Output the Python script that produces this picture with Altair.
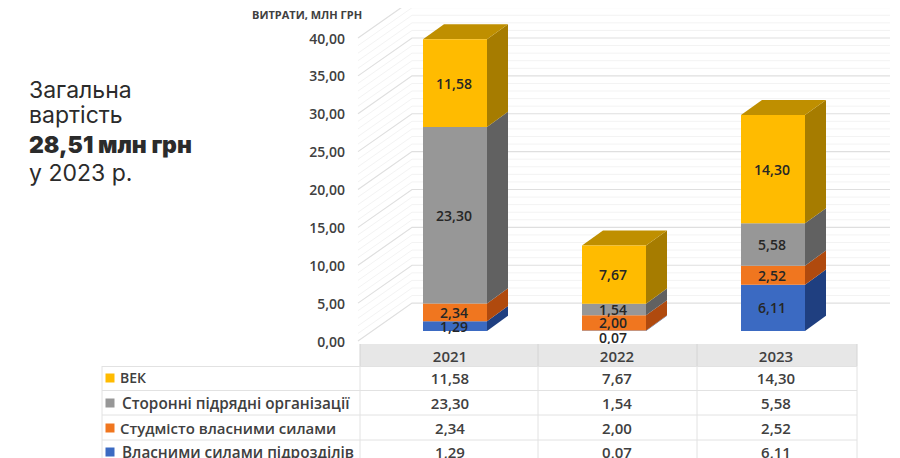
import altair as alt
import pandas as pd

YEARS = ["2021", "2022", "2023"]
SERIES = ["Власними силами підрозділів", "Студмісто власними силами", "Сторонні підрядні організації", "ВЕК"]
VALS = {
    "Власними силами підрозділів": [1.29, 0.07, 6.11],
    "Студмісто власними силами": [2.34, 2.00, 2.52],
    "Сторонні підрядні організації": [23.30, 1.54, 5.58],
    "ВЕК": [11.58, 7.67, 14.30],
}
FRONT = ["#3B6AC2", "#F0761F", "#979797", "#FFBB00"]
SIDE = ["#1F3F80", "#B04A0E", "#616161", "#A67C00"]
TOP = "#BF8F00"
TICKS = [0, 5, 10, 15, 20, 25, 30, 35, 40]
MINOR = [v for v in range(0, 41) if v % 5]

fmt = lambda v: f"{v:.2f}".replace(".", ",")

# layout (page pixels on x, value units on y; 1 unit = 7.575 px)
LEFT = [423, 582, 741]
BAR_W = 64
DX, LIFT = 21, 2.0       # bar depth
FRONT_LIFT = 1.32        # bars stand on the floor, in front of the back wall
WALL_X0, WALL_X1, WALL_END, WALL_LIFT = 358, 412, 890, 5.0
W, H = 884, 450
Y_DOM = [(341 - 458) / 7.575, (341 - 8) / 7.575]

x_s = alt.Scale(domain=[8, 8 + W], range=[0, W], nice=False, zero=False)
y_s = alt.Scale(domain=Y_DOM, range=[H, 0], nice=False, zero=False)

front, side, top, labels = [], [], [], []
for i, yr in enumerate(YEARS):
    b = FRONT_LIFT
    l = LEFT[i]
    r = l + BAR_W
    for s in SERIES:
        v = VALS[s][i]
        t = b + v
        front.append(dict(year=yr, s=s, x=l, x2=r, y=b, y2=t))
        side += [dict(k=yr + s, s=s, x=r, y=b, y2=t),
                 dict(k=yr + s, s=s, x=r + DX, y=b + LIFT, y2=t + LIFT)]
        labels.append(dict(s=s, x=(l + r) / 2 - 1, y=(b + t) / 2, t=fmt(v), v=v))
        b = t
    top += [dict(k=yr, x=l, y=b, y2=b),
            dict(k=yr, x=l + DX, y=b, y2=b + LIFT),
            dict(k=yr, x=r, y=b, y2=b + LIFT),
            dict(k=yr, x=r + DX, y=b + LIFT, y2=b + LIFT)]

def wall(vals):
    rows = []
    for v in vals:
        rows += [dict(v=v, x=WALL_X0, y=v), dict(v=v, x=WALL_X1, y=v + WALL_LIFT),
                 dict(v=v, x=WALL_END, y=v + WALL_LIFT)]
    return pd.DataFrame(rows)

X = alt.X("x:Q", scale=x_s, axis=None)
Y = alt.Y("y:Q", scale=y_s, axis=None)
YA = alt.Y("y:Q", scale=y_s, axis=None, stack=None)

minor = alt.Chart(wall(MINOR)).mark_line(color="#f3f3f3", strokeWidth=1, clip=True).encode(X, Y, detail="v:N")
major = alt.Chart(wall(TICKS)).mark_line(color="#dfdfdf", strokeWidth=1.2, clip=True).encode(X, Y, detail="v:N")

ticks = alt.Chart(pd.DataFrame({"y": TICKS, "t": [fmt(v) for v in TICKS], "x": [345] * len(TICKS)})).mark_text(
    align="right", baseline="middle", dy=1.5, font="Open Sans", fontSize=14, fontWeight=600, color="#404040"
).encode(X, Y, text="t:N")

unit = alt.Chart(pd.DataFrame({"t": ["ВИТРАТИ, МЛН ГРН"]})).mark_text(
    align="left", baseline="middle", font="Open Sans", fontSize=11, fontWeight=700, color="#404040"
).encode(x=alt.value(252 - 8), y=alt.value(16 - 8), text="t:N")

color_front = alt.Color("s:N", scale=alt.Scale(domain=SERIES, range=FRONT), legend=None)
color_side = alt.Color("s:N", scale=alt.Scale(domain=SERIES, range=SIDE), legend=None)

sides = alt.Chart(pd.DataFrame(side)).mark_area(orient="vertical", opacity=1).encode(
    X, YA, alt.Y2("y2"), color_side, detail="k:N")
tops = alt.Chart(pd.DataFrame(top)).mark_area(orient="vertical", color=TOP, opacity=1).encode(
    X, YA, alt.Y2("y2"), detail="k:N")
fronts = alt.Chart(pd.DataFrame(front)).mark_rect(opacity=1).encode(
    X, alt.X2("x2"), Y, alt.Y2("y2"), color_front)

lab_df = pd.DataFrame(labels)
lab_style = dict(align="center", baseline="middle", font="Open Sans", fontSize=14, fontWeight=600, color="#262626")
bar_labels = alt.Chart(lab_df[lab_df.v >= 0.5]).mark_text(dy=1.5, **lab_style).encode(X, Y, text="t:N")
small_labels = alt.Chart(lab_df[lab_df.v < 0.5]).mark_text(dy=8, **lab_style).encode(X, Y, text="t:N")

# table
COL_EDGES = [360, 538, 697, 857]
CELL_X = [450, 617, 776]
ROW_Y = [366.5, 390.5, 415, 440]
ROW_TEXT_Y = [378, 403, 428, 452]
HEAD_Y = 356
LEFT_EDGE = 102
ROWS = list(reversed(SERIES))
ROW_COLORS = list(reversed(FRONT))
NAME_X = [120, 122, 120, 122]
NAME_SIZE = [14, 15.3, 15, 15.3]

def px(v):  # page pixel -> chart pixel
    return v - 8

head_bg = alt.Chart(pd.DataFrame({"a": [0]})).mark_rect(color="#e7e7e7").encode(
    x=alt.value(px(COL_EDGES[0])), x2=alt.value(px(COL_EDGES[3])), y=alt.value(px(344)), y2=alt.value(px(ROW_Y[0])))
h_lines = alt.Chart(pd.DataFrame({"y": [px(v) for v in ROW_Y]})).mark_rule(color="#e2e2e2", strokeWidth=1).encode(
    x=alt.value(px(LEFT_EDGE)), x2=alt.value(px(COL_EDGES[3])), y=alt.Y("y:Q", scale=None))
v_lines = alt.Chart(pd.DataFrame({"x": [px(v) for v in [LEFT_EDGE] + COL_EDGES]})).mark_rule(color="#e2e2e2", strokeWidth=1).encode(
    x=alt.X("x:Q", scale=None), y=alt.value(px(366)), y2=alt.value(H))
v_head = alt.Chart(pd.DataFrame({"x": [px(v) for v in COL_EDGES]})).mark_rule(color="#d4d4d4", strokeWidth=1).encode(
    x=alt.X("x:Q", scale=None), y=alt.value(px(344)), y2=alt.value(px(366)))

cell_rows = []
for j, yr in enumerate(YEARS):
    cx = px(CELL_X[j])
    cell_rows.append(dict(x=cx, y=px(HEAD_Y), t=yr))
    for k, s in enumerate(ROWS):
        cell_rows.append(dict(x=cx, y=px(ROW_TEXT_Y[k]), t=fmt(VALS[s][j])))
cells = alt.Chart(pd.DataFrame(cell_rows)).mark_text(
    align="center", baseline="middle", dy=1, font="Open Sans", fontSize=15, fontWeight=600, color="#404040"
).encode(x=alt.X("x:Q", scale=None), y=alt.Y("y:Q", scale=None), text="t:N")

names = alt.Chart(pd.DataFrame({"t": ROWS, "y": [px(v) for v in ROW_TEXT_Y], "x": [px(v) for v in NAME_X], "fs": NAME_SIZE})).mark_text(
    align="left", baseline="middle", dy=1, font="Open Sans", fontWeight=600, color="#404040"
).encode(x=alt.X("x:Q", scale=None), y=alt.Y("y:Q", scale=None), size=alt.Size("fs:Q", scale=None, legend=None), text="t:N")

keys = alt.Chart(pd.DataFrame({"s": ROWS, "y": [px(v) for v in ROW_TEXT_Y]})).mark_square(size=81, opacity=1).encode(
    x=alt.value(px(110)), y=alt.Y("y:Q", scale=None),
    color=alt.Color("s:N", scale=alt.Scale(domain=ROWS, range=ROW_COLORS), legend=None))

# headline
HEAD_LINES = ["Загальна", "вартість", "28,51 млн грн", "у 2023 р."]
HEAD_WEIGHT = [400, 400, 900, 400]
HEAD_YS = [91, 116, 146, 174]
head_df = pd.DataFrame({"t": HEAD_LINES, "w": HEAD_WEIGHT, "y": [px(v) for v in HEAD_YS]})
headline = [
    alt.Chart(head_df[head_df.w == w]).mark_text(
        align="left", baseline="middle", font="Inter", fontSize=23, fontWeight=w, color="#2b2b2b"
    ).encode(x=alt.value(px(29)), y=alt.Y("y:Q", scale=None), text="t:N")
    for w in [400, 900]
]

layers = [minor, major, ticks, unit, sides, tops, fronts, bar_labels, small_labels,
          head_bg, h_lines, v_lines, v_head, cells, names, keys] + headline

chart = alt.layer(*layers).resolve_scale(color="independent", x="independent", y="independent").properties(
    width=W, height=H, padding=0, background="white", autosize=alt.AutoSizeParams(type="none")
).configure_view(stroke=None)

chart.save("out.html", embed_options={"renderer": "svg", "actions": False})
